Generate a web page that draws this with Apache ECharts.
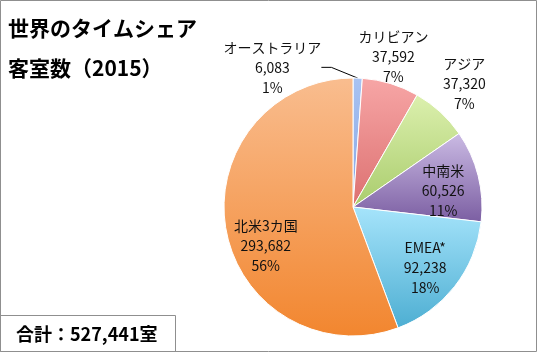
<!DOCTYPE html>
<html lang="ja">
<head>
<meta charset="UTF-8">
<title>世界のタイムシェア客室数（2015）</title>
<style>
  html, body { margin: 0; padding: 0; background: #fff; }
  #main { width: 537px; height: 352px; }
</style>
<script src="https://cdn.jsdelivr.net/npm/echarts@6/dist/echarts.min.js"></script>
</head>
<body>
<div id="main"></div>
<script>
// data
var names = ['オーストラリア', 'カリビアン', 'アジア', '中南米', 'EMEA*', '北米3カ国'];
var values = [6083, 37592, 37320, 60526, 92238, 293682];

// gradient colours per slice (top -> bottom)
var topColors = ['#a9c3f2', '#f7a6a6', '#dcf0ae', '#cbbbe4', '#a6e4fb', '#f9bd8f'];
var bottomColors = ['#86a6e4', '#dc7070', '#a9cc6c', '#7b5ea2', '#4daed2', '#f2862f'];

// label placement: [angle in degrees clockwise from top, distance as fraction of radius]
var labelPolar = [[-30, 1.25], [15, 1.21], [42, 1.29], [80, 0.71], [130, 0.73], [246, 0.74]];

var CX = 353, CY = 207, R = 129;
var FONT = '"Noto Sans CJK JP", "Noto Sans", sans-serif';

var total = values.reduce(function (a, b) { return a + b; }, 0);

var chart = echarts.init(document.getElementById('main'));

var pieData = names.map(function (n, i) {
  var item = {
    name: n,
    value: values[i],
    itemStyle: {
      color: new echarts.graphic.LinearGradient(0, 0, 0, 1, [
        { offset: 0, color: topColors[i] },
        { offset: 1, color: bottomColors[i] }
      ])
    }
  };
  if (i === 0) {
    item.label = { position: 'outside' };
    item.labelLine = { show: true, length: 10, length2: 10, lineStyle: { color: '#000', width: 1 } };
  }
  return item;
});

var option = {
  animation: false,
  graphic: [{
    type: 'rect',
    shape: { x: 0.5, y: 0.5, width: 536, height: 351 },
    style: { fill: null, stroke: '#8f8f8f', lineWidth: 1 },
    silent: true
  }],
  title: [{
    text: '世界のタイムシェア\n客室数（2015）',
    left: 8,
    top: 8,
    padding: 0,
    textStyle: { fontFamily: FONT, fontSize: 21, fontWeight: 'bold', color: '#000', lineHeight: 40 }
  }, {
    text: '合計：' + total.toLocaleString('en-US') + '室',
    left: 0,
    bottom: 0,
    padding: [8, 18, 7, 16],
    borderColor: '#8f8f8f',
    borderWidth: 1,
    textStyle: { fontFamily: FONT, fontSize: 18, fontWeight: 'bold', color: '#000', lineHeight: 22 }
  }],
  series: [{
    type: 'pie',
    center: [CX, CY],
    radius: R,
    startAngle: 90,
    clockwise: true,
    avoidLabelOverlap: false,
    percentPrecision: 0,
    itemStyle: { borderColor: '#fff', borderWidth: 1 },
    label: {
      show: true,
      position: 'inside',
      fontFamily: FONT,
      fontSize: 14,
      lineHeight: 20,
      color: '#111',
      align: 'center',
      formatter: function (p) {
        return p.name + '\n' + p.value.toLocaleString('en-US') + '\n' + p.percent + '%';
      }
    },
    labelLine: { show: false },
    labelLayout: function (p) {
      var a = labelPolar[p.dataIndex][0] * Math.PI / 180;
      var d = labelPolar[p.dataIndex][1] * R;
      return {
        x: CX + d * Math.sin(a),
        y: CY - d * Math.cos(a),
        align: 'center',
        verticalAlign: 'middle'
      };
    },
    emphasis: { disabled: true },
    data: pieData
  }]
};

chart.setOption(option);
</script>
</body>
</html>
